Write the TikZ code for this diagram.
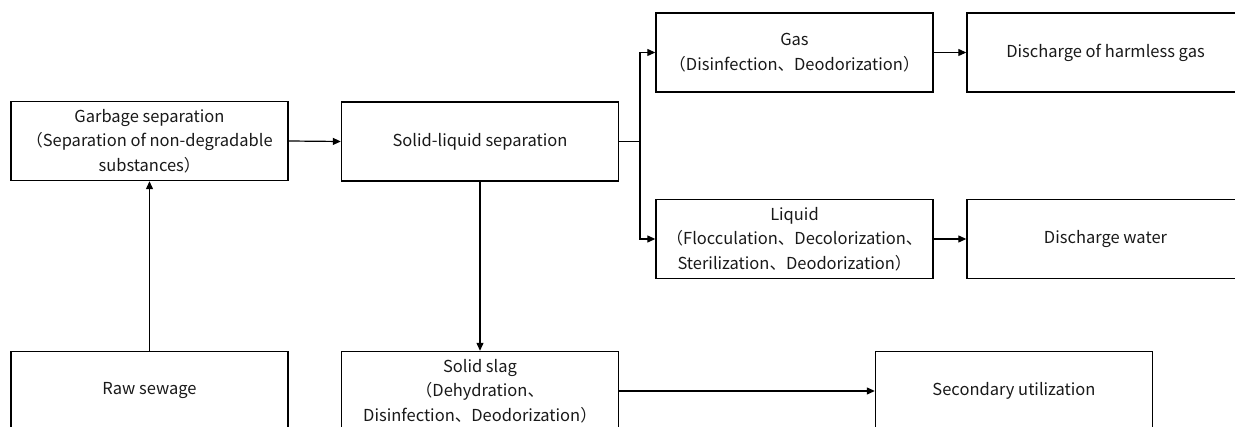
\documentclass[tikz,border=0pt]{standalone}
\usepackage{fontspec}
\setmainfont{Noto Sans CJK SC}
\usetikzlibrary{arrows.meta}
\begin{document}
\begin{tikzpicture}[x=1pt,y=-1pt,
  box/.style={draw=black, line width=1.4pt, rectangle, minimum width=277pt, minimum height=79pt, inner sep=0pt, align=center, font=\fontsize{16.5}{24.5}\selectfont, text=black!90},
  conn/.style={line width=1.2pt, -{Triangle[length=8pt,width=7pt]}},
  plain/.style={line width=1.2pt}]
\useasboundingbox (0,0) rectangle (1235,427);
\clip (0,0) rectangle (1235,427);
\node[box] (garb) at (149.5,141) {Garbage separation\\（Separation of non-degradable\\substances）};
\node[box] (sls) at (480,141.5) {Solid-liquid separation};
\node[box] (gas) at (794.5,52.5) {Gas\\（Disinfection、Deodorization）};
\node[box] (harm) at (1105.5,52.5) {Discharge of harmless gas};
\node[box] (liq) at (794.5,239) {Liquid\\（Flocculation、Decolorization、\\Sterilization、Deodorization）};
\node[box] (water) at (1105.5,239) {Discharge water};
\node[box] (raw) at (149.5,391) {Raw sewage};
\node[box] (slag) at (480,391) {Solid slag\\（Dehydration、\\Disinfection、Deodorization）};
\node[box] (sec) at (1014,391) {Secondary utilization};
\coordinate (br) at (640,141.5);
\draw[conn] (raw.north) -- (garb.south);
\draw[conn] (garb.east) -- (sls.west);
\draw[conn] (sls.south) -- (slag.north);
\draw[plain] (sls.east) -- (br);
\draw[conn] (br) |- (gas.west);
\draw[conn] (br) |- (liq.west);
\draw[conn] (gas.east) -- (harm.west);
\draw[conn] (liq.east) -- (water.west);
\draw[conn] (slag.east) -- (sec.west);
\end{tikzpicture}
\end{document}
